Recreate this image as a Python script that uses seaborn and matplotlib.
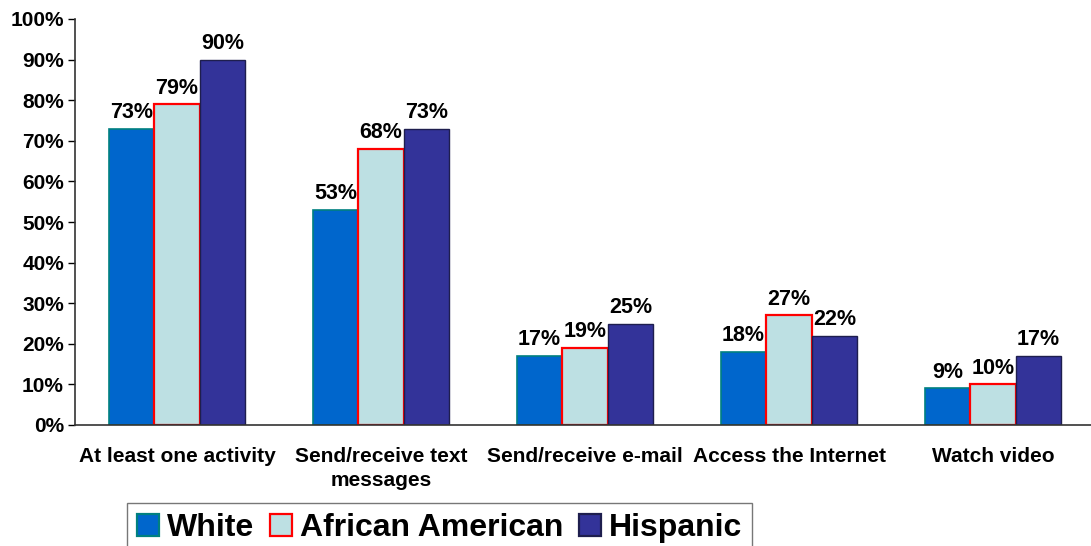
import matplotlib
matplotlib.use("Agg")
import matplotlib.pyplot as plt
from matplotlib.patches import Patch
import seaborn as sns
import pandas as pd

categories = ["At least one activity", "Send/receive text\nmessages", "Send/receive e-mail",
              "Access the Internet", "Watch video"]
groups = ["White", "African American", "Hispanic"]
white = [73, 53, 17, 18, 9]
african_american = [79, 68, 19, 27, 10]
hispanic = [90, 73, 25, 22, 17]
yticks = [0, 10, 20, 30, 40, 50, 60, 70, 80, 90, 100]
ytick_labels = [f"{v}%" for v in yticks]

face_colors = {"White": "#0066CC", "African American": "#BDE0E3", "Hispanic": "#333399"}
edge_colors = {"White": "#008080", "African American": "#FF0000", "Hispanic": "#1E1E4E"}
edge_widths = {"White": 1.2, "African American": 1.6, "Hispanic": 1.0}

rows = []
for g, vals in zip(groups, [white, african_american, hispanic]):
    for c, v in zip(categories, vals):
        rows.append({"category": c, "group": g, "value": v})
df = pd.DataFrame(rows)

sns.set_style("white")
plt.rcParams["font.family"] = ["Liberation Sans", "DejaVu Sans"]
plt.rcParams["font.weight"] = "bold"
plt.rcParams["text.color"] = "black"
plt.rcParams["xtick.color"] = "black"
plt.rcParams["ytick.color"] = "black"

fig = plt.figure(figsize=(10.91, 5.46), dpi=100)
ax = fig.add_axes([75 / 1091, 1 - 425 / 546, 1 - 75 / 1091, (425 - 19) / 546])

sns.barplot(data=df, x="category", y="value", hue="group", order=categories,
            hue_order=groups, palette=face_colors, width=0.67, gap=0,
            saturation=1, ax=ax, legend=False)

for cont, g, vals in zip(ax.containers, groups, [white, african_american, hispanic]):
    for p in cont:
        p.set_edgecolor(edge_colors[g])
        p.set_linewidth(edge_widths[g])
    ax.bar_label(cont, labels=[f"{v}%" for v in vals], padding=4,
                 fontsize=15.5, fontweight="bold", color="black")

ax.set_ylim(0, 100)
ax.set_xlim(-0.5, 4.48)
ax.set_yticks(yticks)
ax.set_yticklabels(ytick_labels, fontsize=15, fontweight="bold", color="black")
ax.set_xticks(range(len(categories)))
ax.set_xticklabels(categories, fontsize=15, fontweight="bold", color="black", linespacing=1.35)
ax.set_xticks([0.5, 1.5, 2.5, 3.5], minor=True)
ax.tick_params(axis="x", which="major", length=0, pad=16)
ax.tick_params(axis="x", which="minor", length=6, width=1, color="black", direction="out")
ax.tick_params(axis="y", length=5, width=1, color="black", direction="out", pad=3, left=True)
ax.set_xlabel("")
ax.set_ylabel("")
for s in ["top", "right"]:
    ax.spines[s].set_visible(False)
for s in ["left", "bottom"]:
    ax.spines[s].set_color("#333333")
    ax.spines[s].set_linewidth(1.2)

handles = [Patch(facecolor=face_colors[g], edgecolor=edge_colors[g], linewidth=1.6) for g in groups]
leg = fig.legend(handles, groups, loc="upper left", bbox_to_anchor=(127 / 1091, 1 - 503 / 546),
                 ncol=3, fontsize=23, frameon=True, fancybox=False, edgecolor="#555555",
                 handlelength=0.68, handleheight=0.68, handletextpad=0.25, columnspacing=0.5,
                 borderpad=0.32, borderaxespad=0)
leg.get_frame().set_linewidth(1.0)
for t in leg.get_texts():
    t.set_fontweight("bold")
    t.set_color("black")

fig.savefig("out.png", dpi=100)
